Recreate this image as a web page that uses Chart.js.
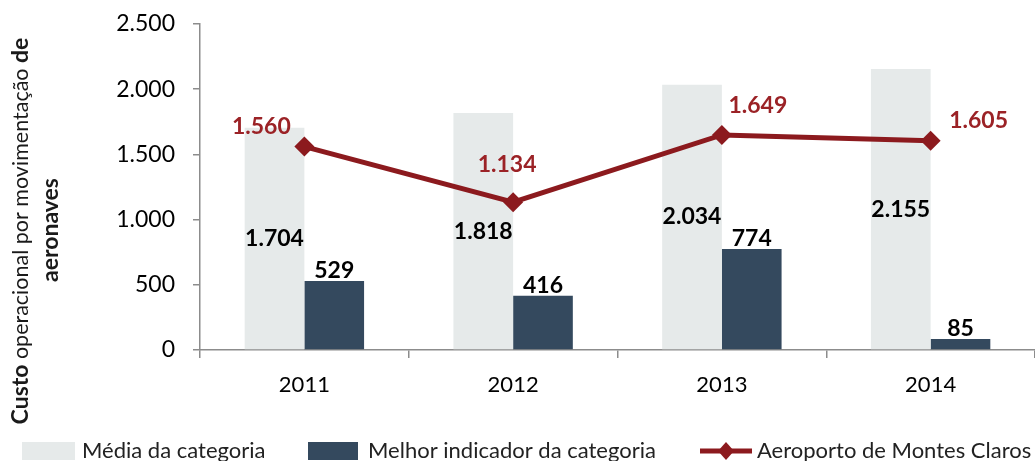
<!DOCTYPE html>
<html><head><meta charset="utf-8">
<script src="https://cdn.jsdelivr.net/npm/chart.js@4.4.0/dist/chart.umd.min.js"></script>
<style>html,body{margin:0;padding:0;background:#fff;overflow:hidden}#wrap{width:1035px;height:461px;position:relative}</style>
</head><body><div id="wrap"><canvas id="c" width="1035" height="461"></canvas></div>
<script>
// ---- data ----
const categories = ['2011', '2012', '2013', '2014'];
const mediaCategoria = [1704, 1818, 2034, 2155];
const melhorIndicador = [529, 416, 774, 85];
const aeroportoMontesClaros = [1560, 1134, 1649, 1605];
const yTickValues = [0, 500, 1000, 1500, 2000, 2500];
const seriesNames = ['Média da categoria', 'Melhor indicador da categoria', 'Aeroporto de Montes Claros'];
const yTitleLine1 = [['Custo', true], [' operacional por movimentação ', false], ['de', true]];
const yTitleLine2 = [['aeronaves', true]];

// ---- styles ----
const FONT = 'Lato, "Open Sans", sans-serif';
const C_LIGHT = '#E6EAEA', C_DARK = '#34495E', C_LINE = '#8C1A1E', C_LINE_LBL = '#9B2226';
const lineLabelOffsets = [[-43, -20], [-6, -38], [36, -29], [48, -20]];

function fmt(v) { return String(v).replace(/\B(?=(\d{3})+(?!\d))/g, '.'); }

function swatchDraw(ctx, i, x, y) {
  if (i === 0) { ctx.fillStyle = C_LIGHT; ctx.fillRect(x, y - 9, 53, 18); return 53; }
  if (i === 1) { ctx.fillStyle = C_DARK; ctx.fillRect(x, y - 9, 50, 18); return 50; }
  ctx.strokeStyle = C_LINE; ctx.lineWidth = 5; ctx.beginPath(); ctx.moveTo(x, y); ctx.lineTo(x + 52, y); ctx.stroke();
  ctx.fillStyle = C_LINE; ctx.beginPath(); ctx.moveTo(x + 26, y - 9); ctx.lineTo(x + 34, y); ctx.lineTo(x + 26, y + 9); ctx.lineTo(x + 18, y); ctx.closePath(); ctx.fill();
  return 52;
}

const extras = {
  id: 'extras',
  afterDatasetsDraw(chart) {
    const ctx = chart.ctx;
    ctx.save();
    ctx.font = 'bold 23px ' + FONT;
    ctx.textAlign = 'center'; ctx.textBaseline = 'middle';
    chart.getDatasetMeta(0).data.forEach((b, i) => {
      ctx.fillStyle = '#000';
      ctx.fillText(fmt(mediaCategoria[i]), b.x, (b.y + b.base) / 2);
    });
    chart.getDatasetMeta(1).data.forEach((b, i) => {
      ctx.fillStyle = '#000';
      ctx.fillText(fmt(melhorIndicador[i]), b.x, b.y - 10);
    });
    chart.getDatasetMeta(2).data.forEach((p, i) => {
      ctx.fillStyle = C_LINE_LBL;
      ctx.fillText(fmt(aeroportoMontesClaros[i]), p.x + lineLabelOffsets[i][0], p.y + lineLabelOffsets[i][1]);
    });
    ctx.restore();
  },
  afterDraw(chart) {
    const ctx = chart.ctx;
    ctx.save();
    const drawTitle = (parts, cx, cy) => {
      ctx.save();
      ctx.translate(cx, cy); ctx.rotate(-Math.PI / 2);
      ctx.textBaseline = 'middle'; ctx.textAlign = 'left'; ctx.fillStyle = '#1a1a1a';
      const f = b => (b ? 'bold 23px ' : '21.5px ') + FONT;
      let total = 0;
      const w = parts.map(([t, b]) => { ctx.font = f(b); const m = ctx.measureText(t).width; total += m; return m; });
      let x = -total / 2;
      parts.forEach(([t, b], k) => { ctx.font = f(b); ctx.fillText(t, x, 0); x += w[k]; });
      ctx.restore();
    };
    drawTitle(yTitleLine1, 21, 231);
    drawTitle(yTitleLine2, 51, 230);
    const sx = [22, 308, 700], tx = [82, 368, 757], ly = 451;
    ctx.font = '22px ' + FONT; ctx.textBaseline = 'middle'; ctx.textAlign = 'left';
    seriesNames.forEach((n, i) => {
      swatchDraw(ctx, i, sx[i], ly);
      ctx.fillStyle = '#222';
      ctx.fillText(n, tx[i], ly);
    });
    ctx.restore();
  }
};

new Chart(document.getElementById('c'), {
  type: 'bar',
  data: {
    labels: categories,
    datasets: [
      { type: 'bar', label: seriesNames[0], data: mediaCategoria, backgroundColor: C_LIGHT, order: 1, categoryPercentage: 0.572, barPercentage: 1.0 },
      { type: 'bar', label: seriesNames[1], data: melhorIndicador, backgroundColor: C_DARK, order: 1, categoryPercentage: 0.572, barPercentage: 1.0 },
      { type: 'line', label: seriesNames[2], data: aeroportoMontesClaros, borderColor: C_LINE, backgroundColor: C_LINE, borderWidth: 5, tension: 0,
        pointStyle: 'rectRot', pointRadius: 10, pointHoverRadius: 10, pointBackgroundColor: C_LINE, pointBorderWidth: 0, order: 0 }
    ]
  },
  options: {
    responsive: false, animation: false, events: [],
    layout: { autoPadding: false, padding: { top: 24, right: 0, bottom: 41, left: 0 } },
    plugins: { legend: { display: false }, tooltip: { enabled: false } },
    scales: {
      x: {
        offset: true,
        afterFit(s) { s.height = 70; s.paddingLeft = 0; s.paddingRight = 0; },
        grid: { display: true, drawOnChartArea: false, drawTicks: true, tickLength: 8, color: '#8c8c8c', lineWidth: 1.5, offset: true },
        border: { display: true, color: '#8c8c8c', width: 1.5 },
        ticks: { color: '#000', font: { family: FONT, size: 22 }, padding: 14 }
      },
      y: {
        min: 0, max: 2500,
        afterFit(s) { s.width = 200; s.paddingTop = 0; s.paddingBottom = 0; },
        afterBuildTicks(s) { s.ticks = yTickValues.map(v => ({ value: v })); },
        grid: { display: true, drawOnChartArea: false, drawTicks: true, tickLength: 7, color: '#8c8c8c', lineWidth: 1.5 },
        border: { display: true, color: '#8c8c8c', width: 1.5 },
        ticks: { color: '#000', font: { family: FONT, size: 23 }, padding: 18, callback: v => fmt(v) }
      }
    }
  },
  plugins: [extras]
});
</script>
</body></html>
